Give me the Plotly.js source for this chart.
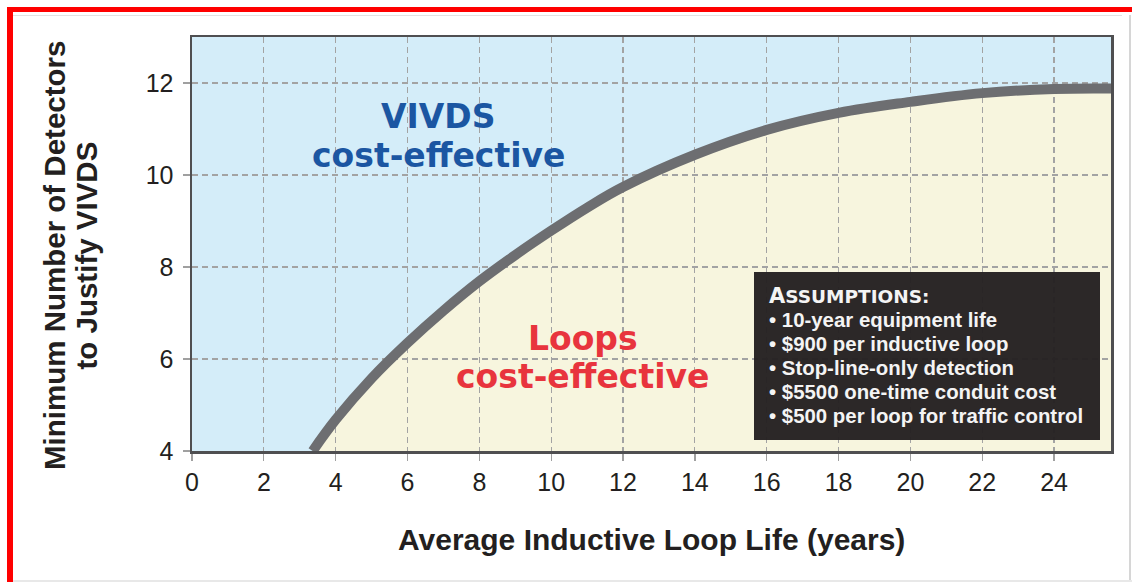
<!DOCTYPE html>
<html><head><meta charset="utf-8">
<script src="https://cdn.plot.ly/plotly-3.0.1.min.js"></script>
<style>
html,body{margin:0;padding:0;background:#fff;}
#wrap{position:relative;width:1132px;height:582px;overflow:hidden;background:#fff;}
#chart{position:absolute;left:0;top:0;width:1132px;height:582px;}
.deco{position:absolute;}
</style></head>
<body><div id="wrap"><div id="chart"></div>
<div class="deco" style="left:13px;top:15px;width:1109px;height:1px;background:#e2e2e2"></div>
<div class="deco" style="left:1129px;top:15px;width:2px;height:567px;background:#d6d6d6"></div>
<div class="deco" style="left:13px;top:580px;width:1119px;height:2px;background:#e8e8e8"></div>
<div class="deco" style="left:7px;top:7px;width:1125px;height:5px;background:#ff0000"></div>
<div class="deco" style="left:7px;top:7px;width:6px;height:575px;background:#ff0000"></div>
</div>
<script>
// ---- data ----
const loopLife = [3.36, 4, 5, 6, 7, 8, 9, 10, 11, 12, 14, 16, 18, 20, 22, 24, 25.6];
const minDetectors = [4.0, 4.68, 5.58, 6.35, 7.05, 7.69, 8.26, 8.79, 9.29, 9.74, 10.44, 10.98, 11.35, 11.59, 11.78, 11.87, 11.88];
const xTicks = [0, 2, 4, 6, 8, 10, 12, 14, 16, 18, 20, 22, 24];
const yTicks = [4, 6, 8, 10, 12];
const xTitle = 'Average Inductive Loop Life (years)';
const yTitleLines = ['Minimum Number of Detectors', 'to Justify VIVDS'];
const regionAbove = ['VIVDS', 'cost-effective'];
const regionBelow = ['Loops', 'cost-effective'];
const assumptionsHead = 'A<span style="font-size:18.5px">SSUMPTIONS:</span>';
const assumptions = [
  '• 10-year equipment life',
  '• $900 per inductive loop',
  '• Stop-line-only detection',
  '• $5500 one-time conduit cost',
  '• $500 per loop for traffic control'
];

// ---- geometry helpers (pixel -> paper) ----
const W = 1132, H = 582, ML = 192, MR = 21, MT = 37, MB = 131;
const PW = W - ML - MR, PH = H - MT - MB;
const px = v => (v - ML) / PW;
const py = v => (H - MB - v) / PH;

const XR = [0, 25.585], YR = [4, 13];
const tickFont = {family: 'Liberation Sans, Arial, sans-serif', size: 25, color: '#231f20'};

const traces = [
  { // cream region (Loops cost-effective)
    x: loopLife, y: minDetectors, xaxis: 'x', yaxis: 'y',
    type: 'scatter', mode: 'lines', fill: 'tozeroy', fillcolor: '#f7f5de',
    line: {width: 0, color: 'rgba(0,0,0,0)', shape: 'spline', smoothing: 1.1},
    hoverinfo: 'skip', showlegend: false
  },
  { // boundary curve, drawn above grid
    x: loopLife, y: minDetectors, xaxis: 'x2', yaxis: 'y2',
    type: 'scatter', mode: 'lines',
    line: {width: 10, color: '#6d6e71', shape: 'spline', smoothing: 1.1},
    hoverinfo: 'skip', showlegend: false
  }
];

const hiddenAxis = {showgrid: false, zeroline: false, showline: false, showticklabels: false, ticks: ''};
const gridStyle = {showgrid: true, gridcolor: '#a3a3a3', gridwidth: 1.2, griddash: '6px,4px', zeroline: false,
  showline: true, mirror: true, linecolor: '#4f4f51', linewidth: 2.5,
  ticks: 'outside', ticklen: 7, tickwidth: 1.3, tickcolor: '#a0a0a0', tickfont: tickFont};

const annotations = [];
annotations.push({xref: 'paper', yref: 'paper', x: 0.5, y: py(539.5), xanchor: 'center', yanchor: 'middle',
  text: '<b>' + xTitle + '</b>', showarrow: false,
  font: {family: 'Liberation Sans, Arial, sans-serif', size: 30, color: '#231f20'}});
[54, 85.5].forEach((cx, i) => annotations.push({xref: 'paper', yref: 'paper', x: px(cx), y: py(256),
  xanchor: 'center', yanchor: 'middle', textangle: -90, text: '<b>' + yTitleLines[i] + '</b>', showarrow: false,
  font: {family: 'Liberation Sans, Arial, sans-serif', size: 29.5, color: '#231f20'}}));
[116.5, 155].forEach((cy, i) => annotations.push({xref: 'paper', yref: 'paper', x: px(438), y: py(cy),
  xanchor: 'center', yanchor: 'middle', text: '<b>' + regionAbove[i] + '</b>', showarrow: false,
  font: {family: 'DejaVu Sans, sans-serif', size: 33, color: '#1b56a2'}}));
[338.5, 376.5].forEach((cy, i) => annotations.push({xref: 'paper', yref: 'paper', x: px(582.5), y: py(cy),
  xanchor: 'center', yanchor: 'middle', text: '<b>' + regionBelow[i] + '</b>', showarrow: false,
  font: {family: 'DejaVu Sans, sans-serif', size: 33, color: '#e8343d'}}));
annotations.push({xref: 'paper', yref: 'paper', x: px(767), y: py(296), xanchor: 'left', yanchor: 'middle',
  text: '<b>' + assumptionsHead + '</b>', showarrow: false,
  font: {family: 'DejaVu Sans, sans-serif', size: 21, color: '#f4f4f4'}});
assumptions.forEach((t, i) => annotations.push({xref: 'paper', yref: 'paper', x: px(767), y: py(320 + 24 * i),
  xanchor: 'left', yanchor: 'middle', text: '<b>' + t + '</b>', showarrow: false,
  font: {family: 'Liberation Sans, Arial, sans-serif', size: 20.4, color: '#f4f4f4'}}));

const layout = {
  width: W, height: H,
  margin: {l: ML, r: MR, t: MT, b: MB, pad: 0},
  paper_bgcolor: 'rgba(0,0,0,0)', plot_bgcolor: 'rgba(0,0,0,0)',
  showlegend: false,
  xaxis: Object.assign({range: XR, domain: [0, 1], anchor: 'y'}, hiddenAxis),
  yaxis: Object.assign({range: YR, domain: [0, 1], anchor: 'x'}, hiddenAxis),
  xaxis2: Object.assign({range: XR, domain: [0, 1], anchor: 'y2', tickvals: xTicks}, gridStyle),
  yaxis2: Object.assign({range: YR, domain: [0, 1], anchor: 'x2', tickvals: yTicks, ticklabelstandoff: 4}, gridStyle),
  shapes: [
    {type: 'rect', layer: 'below', xref: 'paper', yref: 'paper', x0: 0, x1: 1, y0: 0, y1: 1,
      fillcolor: '#d4edf9', line: {width: 0}},
    {type: 'rect', layer: 'above', xref: 'paper', yref: 'paper', x0: px(754), x1: px(1100), y0: py(440), y1: py(272),
      fillcolor: 'rgba(35,31,32,0.96)', line: {width: 0}}
  ],
  annotations: annotations
};

Plotly.newPlot('chart', traces, layout, {staticPlot: true, displayModeBar: false});
</script>
</body></html>
